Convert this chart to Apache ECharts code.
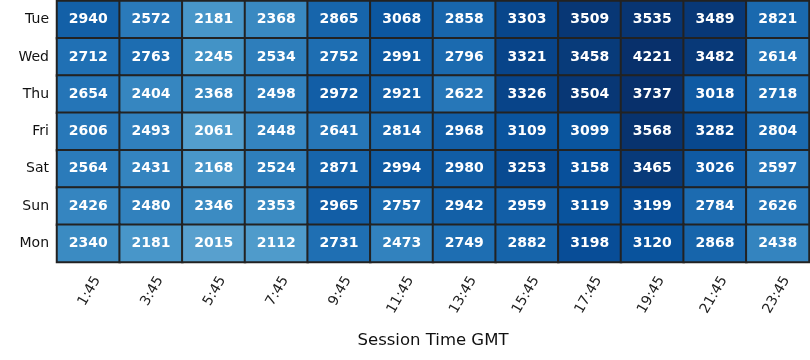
<!DOCTYPE html>
<html>
<head>
<meta charset="utf-8">
<script src="https://cdn.jsdelivr.net/npm/echarts@6/dist/echarts.min.js"></script>
<style>html,body{margin:0;padding:0;background:#fff}#chart{width:810px;height:360px}</style>
</head>
<body>
<div id="chart"></div>
<script>
const times = ['1:45','3:45','5:45','7:45','9:45','11:45','13:45','15:45','17:45','19:45','21:45','23:45'];
const days = ['Tue','Wed','Thu','Fri','Sat','Sun','Mon'];
const tue = [2940,2572,2181,2368,2865,3068,2858,3303,3509,3535,3489,2821];
const wed = [2712,2763,2245,2534,2752,2991,2796,3321,3458,4221,3482,2614];
const thu = [2654,2404,2368,2498,2972,2921,2622,3326,3504,3737,3018,2718];
const fri = [2606,2493,2061,2448,2641,2814,2968,3109,3099,3568,3282,2804];
const sat = [2564,2431,2168,2524,2871,2994,2980,3253,3158,3465,3026,2597];
const sun = [2426,2480,2346,2353,2965,2757,2942,2959,3119,3199,2784,2626];
const mon = [2340,2181,2015,2112,2731,2473,2749,2882,3198,3120,2868,2438];
const rows = [tue,wed,thu,fri,sat,sun,mon];

const data = [];
rows.forEach((r, yi) => r.forEach((v, xi) => data.push([xi, yi, v])));

// matplotlib "Blues" colormap, normalised 0..3600 (clipped)
const blues = ['#f7fbff','#deebf7','#c6dbef','#9ecae1','#6baed6','#4292c6','#2171b5','#08519c','#08306b'];
function hex(c){return [1,3,5].map(i=>parseInt(c.substr(i,2),16));}
function bluesAt(t){
  t = Math.max(0, Math.min(1, t));
  const p = t*(blues.length-1); const i = Math.min(Math.floor(p), blues.length-2); const f = p-i;
  const a = hex(blues[i]), b = hex(blues[i+1]);
  return 'rgb(' + a.map((x,k)=>Math.round(x+(b[k]-x)*f)).join(',') + ')';
}
const vmin = 0, vmax = 3600, dataMax = 4300, N = 120;
const stops = [];
for (let i = 0; i < N; i++) { const v = vmin + (dataMax - vmin) * i / (N - 1); stops.push(bluesAt((v - vmin) / (vmax - vmin))); }

const chart = echarts.init(document.getElementById('chart'));
chart.setOption({
  animation: false,
  grid: {left: 57, right: 1, top: 1, bottom: 98},
  xAxis: {
    type: 'category', data: times, position: 'bottom',
    axisLine: {show: false},
    axisTick: {alignWithLabel: true, length: 4, lineStyle: {color: '#222', width: 1}},
    axisLabel: {rotate: 60, align: 'right', verticalAlign: 'middle', margin: 31, padding: [0, -18, 0, 0],
                fontSize: 14, color: '#222', fontFamily: 'DejaVu Sans'},
    name: 'Session Time GMT', nameLocation: 'middle', nameGap: 70,
    nameTextStyle: {fontSize: 16.5, color: '#111', fontFamily: 'DejaVu Sans'},
    splitLine: {show: false}
  },
  yAxis: {
    type: 'category', data: days, inverse: true,
    axisLine: {show: false},
    axisTick: {alignWithLabel: true, length: 4, lineStyle: {color: '#222', width: 1}},
    axisLabel: {fontSize: 14, color: '#111', margin: 8, fontFamily: 'DejaVu Sans'},
    splitLine: {show: false}
  },
  visualMap: {show: false, type: 'continuous', min: vmin, max: dataMax, dimension: 2, inRange: {color: stops}},
  series: [{
    type: 'heatmap', data: data,
    itemStyle: {borderColor: '#222', borderWidth: 2},
    label: {show: true, color: '#fff', fontSize: 14, fontWeight: 'bold', fontFamily: 'DejaVu Sans',
            formatter: p => p.value[2]}
  }]
});
</script>
</body>
</html>
